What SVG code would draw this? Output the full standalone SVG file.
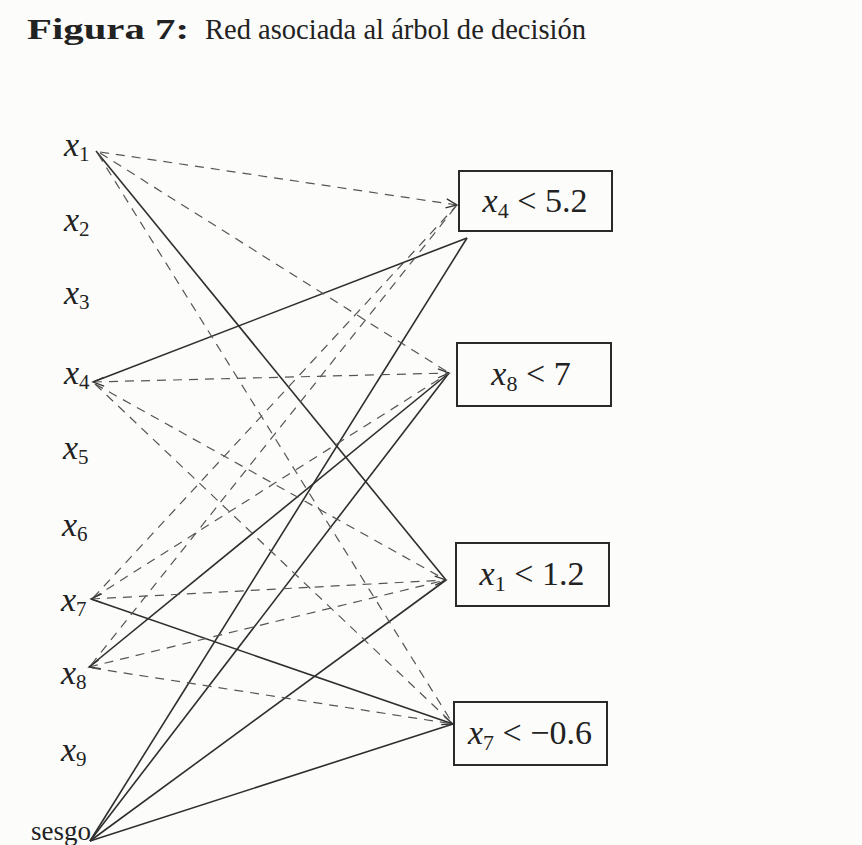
<svg xmlns="http://www.w3.org/2000/svg" width="862" height="845" viewBox="0 0 862 845">
  <style>
    .t { font-family: "Liberation Serif", "DejaVu Serif", serif; fill: #222; }
    .lbl { font-size: 34px; font-style: italic; }
    .sub { font-size: 21px; font-style: normal; }
    .box { fill: none; stroke: #2a2a2a; stroke-width: 2; }
    .bt { font-size: 34px; }
    .bsub { font-size: 22px; }
    .s { stroke: #2e2e2e; stroke-width: 1.6; fill: none; }
    .d { stroke: #555; stroke-width: 1.2; fill: none; stroke-dasharray: 9 7; }
  </style>
  <defs>
    <marker id="ah" viewBox="-13 -7 15 14" refX="0" refY="0" markerWidth="15" markerHeight="14" markerUnits="userSpaceOnUse" orient="auto-start-reverse">
      <path d="M-11,-4.5 L0,0 L-11,4.5" fill="none" stroke="#333" stroke-width="1.3"/>
    </marker>
  </defs>
  <rect width="862" height="845" fill="#fcfcfb"/>

  <g id="title">
    <text class="t" x="27" y="39" font-size="30" font-weight="bold" textLength="162" lengthAdjust="spacingAndGlyphs">Figura 7:</text>
    <text class="t" x="205" y="39" font-size="29" textLength="381" lengthAdjust="spacingAndGlyphs">Red asociada al árbol de decisión</text>
  </g>

  <g id="connectors">
    <!-- solid -->
    <line class="s" x1="96" y1="151" x2="446" y2="580"/>
    <line class="s" x1="467" y1="238" x2="93" y2="382"/>
    <line class="s" x1="89" y1="667" x2="449" y2="373"/>
    <line class="s" x1="91" y1="599" x2="453" y2="724" marker-end="url(#ah)"/>
    <line class="s" x1="90" y1="841" x2="467" y2="238"/>
    <line class="s" x1="90" y1="841" x2="449" y2="373"/>
    <line class="s" x1="90" y1="841" x2="446" y2="580"/>
    <line class="s" x1="90" y1="841" x2="453" y2="724"/>
    <!-- dashed -->
    <line class="d" x1="100" y1="152" x2="457" y2="205" marker-end="url(#ah)"/>
    <line class="d" x1="100" y1="153" x2="449" y2="373"/>
    <line class="d" x1="98" y1="154" x2="453" y2="724"/>
    <line class="d" x1="93" y1="382" x2="449" y2="373" marker-start="url(#ah)" marker-end="url(#ah)"/>
    <line class="d" x1="95" y1="384" x2="446" y2="580"/>
    <line class="d" x1="95" y1="384" x2="453" y2="724"/>
    <line class="d" x1="93" y1="598" x2="457" y2="205"/>
    <line class="d" x1="93" y1="598" x2="449" y2="373"/>
    <line class="d" x1="91" y1="599" x2="446" y2="580" marker-start="url(#ah)" marker-end="url(#ah)"/>
    <line class="d" x1="91" y1="665" x2="457" y2="205"/>
    <line class="d" x1="89" y1="667" x2="446" y2="580" marker-start="url(#ah)"/>
    <line class="d" x1="92" y1="668" x2="453" y2="724"/>
  </g>

  <g id="x1"><text class="t lbl" x="64" y="156">x<tspan class="sub" dy="5">1</tspan></text></g>
  <g id="x2"><text class="t lbl" x="64" y="231">x<tspan class="sub" dy="5">2</tspan></text></g>
  <g id="x3"><text class="t lbl" x="64" y="304">x<tspan class="sub" dy="5">3</tspan></text></g>
  <g id="x4"><text class="t lbl" x="64" y="384">x<tspan class="sub" dy="5">4</tspan></text></g>
  <g id="x5"><text class="t lbl" x="63" y="459">x<tspan class="sub" dy="5">5</tspan></text></g>
  <g id="x6"><text class="t lbl" x="62" y="536">x<tspan class="sub" dy="5">6</tspan></text></g>
  <g id="x7"><text class="t lbl" x="61" y="611">x<tspan class="sub" dy="5">7</tspan></text></g>
  <g id="x8"><text class="t lbl" x="61" y="684">x<tspan class="sub" dy="5">8</tspan></text></g>
  <g id="x9"><text class="t lbl" x="61" y="761">x<tspan class="sub" dy="5">9</tspan></text></g>
  <g id="sesgo"><text class="t" x="31" y="840" font-size="27">sesgo</text></g>

  <g id="n1">
    <rect class="box" x="459" y="171" width="153" height="60"/>
    <text class="t bt" x="535" y="212" text-anchor="middle"><tspan font-style="italic">x</tspan><tspan class="bsub" dy="6">4</tspan><tspan dy="-6"> &lt; 5.2</tspan></text>
  </g>
  <g id="n2">
    <rect class="box" x="457" y="343" width="154" height="63"/>
    <text class="t bt" x="531" y="385" text-anchor="middle"><tspan font-style="italic">x</tspan><tspan class="bsub" dy="6">8</tspan><tspan dy="-6"> &lt; 7</tspan></text>
  </g>
  <g id="n3">
    <rect class="box" x="456" y="543" width="153" height="63"/>
    <text class="t bt" x="532" y="585" text-anchor="middle"><tspan font-style="italic">x</tspan><tspan class="bsub" dy="6">1</tspan><tspan dy="-6"> &lt; 1.2</tspan></text>
  </g>
  <g id="n4">
    <rect class="box" x="454" y="702" width="153" height="63"/>
    <text class="t bt" x="530" y="744" text-anchor="middle"><tspan font-style="italic">x</tspan><tspan class="bsub" dy="6">7</tspan><tspan dy="-6"> &lt; −0.6</tspan></text>
  </g>
</svg>
